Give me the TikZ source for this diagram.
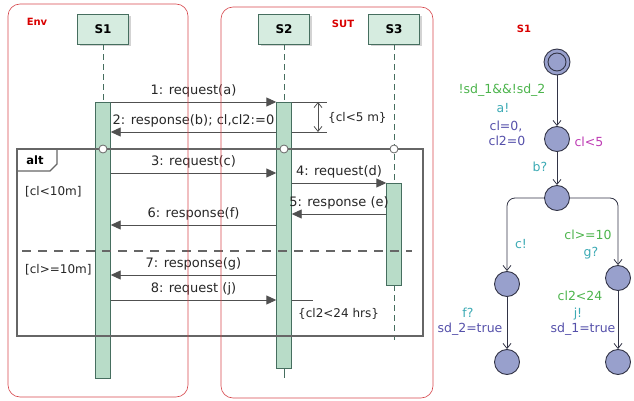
\documentclass[tikz,border=0pt]{standalone}
\usepackage{fontspec}
\setmainfont{DejaVu Sans}
\usetikzlibrary{arrows.meta,shadows}

\definecolor{frameRed}{RGB}{214,70,76}
\definecolor{headFill}{RGB}{214,236,224}
\definecolor{barFill}{RGB}{184,220,200}
\definecolor{lifeGreen}{RGB}{70,110,95}
\definecolor{msgGray}{RGB}{80,80,80}
\definecolor{stateFill}{RGB}{152,160,204}
\definecolor{stateLine}{RGB}{50,52,70}
\definecolor{guardGreen}{RGB}{76,180,76}
\definecolor{syncTeal}{RGB}{60,170,180}
\definecolor{updBlue}{RGB}{85,80,170}
\definecolor{invPink}{RGB}{190,60,180}

\newcommand\seqfont{\fontsize{13}{15}\selectfont}
\newcommand\tafont{\fontsize{12.5}{14}\selectfont}

\begin{document}
\begin{tikzpicture}[x=1pt,y=-1pt]
      \useasboundingbox (0,0) rectangle (634,401);
      \tikzset{
        frame/.style = {draw=frameRed,line width=0.6pt,rounded corners=12pt},
        frametag/.style = {text=red!85!black,font=\fontsize{10}{12}\selectfont\bfseries},
        head/.style = {draw=lifeGreen,fill=headFill,line width=0.9pt,minimum width=51pt,
          minimum height=30pt,font=\fontsize{12}{14}\selectfont\bfseries,
          drop shadow={opacity=0.35,shadow xshift=2pt,shadow yshift=-2pt}},
        bar/.style = {draw=lifeGreen,fill=barFill,minimum width=15pt,inner sep=0pt},
        life/.style = {draw=lifeGreen,dash pattern=on 6pt off 4pt,line width=0.8pt},
        msg/.style = {draw=msgGray,line width=0.9pt,-{Triangle[length=10pt,width=9pt]}},
        lbl/.style = {font=\seqfont,inner sep=1pt,text=black!85,above=3pt},
        altline/.style = {draw=black!60,line width=1.3pt},
        cross/.style = {circle,draw=black!60,fill=white,line width=0.8pt,minimum size=8pt,inner sep=0pt},
        guard/.style = {font=\fontsize{12}{14}\selectfont,text=black!85,anchor=west,inner sep=0pt},
        state/.style = {circle,draw=stateLine,fill=stateFill,line width=0.9pt,minimum size=25pt,inner sep=0pt},
        edge/.style = {draw=stateLine,line width=0.8pt,-{Straight Barb[length=5pt,width=8pt]}},
        ta/.style = {font=\tafont,inner sep=0pt}
      }

      % Frames
      \node[frametag] (env) at (37,22) {Env};
      \node[frametag] (sut) at (343,24) {SUT};

      % Lifelines
      \node[head] (s1) at (103,29) {S1};
      \node[head] (s2) at (284,29) {S2};
      \node[head] (s3) at (394,29) {S3};
      \node[bar,minimum height=276pt] (a1) at (103,240) {};
      \node[bar,minimum height=266pt] (a2) at (284,235) {};
      \node[bar,minimum height=102pt] (a3) at (394,234) {};
      \draw[life] (s1) -- (a1);
      \draw[life] (s2) -- (a2);
      \draw[life] (s3) -- (a3);
      \draw[life] (a3.south) -- ++(0,55);
      \draw[lifeGreen,line width=0.8pt] (a2.south) -- ++(0,10);

      % Messages
      \draw[msg] (a1.east |- 0,102) -- node[lbl] {1: request(a)} (a2.west |- 0,102);
      \draw[msg] (a2.west |- 0,132) -- node[lbl] {2: response(b); cl,cl2:=0} (a1.east |- 0,132);
      \draw[msg] (a1.east |- 0,173) -- node[lbl] {3: request(c)} (a2.west |- 0,173);
      \draw[msg] (a2.east |- 0,183) -- node[lbl] {4: request(d)} (a3.west |- 0,183);
      \draw[msg] (a3.west |- 0,214) -- node[lbl] {5: response (e)} (a2.east |- 0,214);
      \draw[msg] (a2.west |- 0,225) -- node[lbl] {6: response(f)} (a1.east |- 0,225);
      \draw[msg] (a2.west |- 0,275) -- node[lbl] {7: response(g)} (a1.east |- 0,275);
      \draw[msg] (a1.east |- 0,300) -- node[lbl] {8: request (j)} (a2.west |- 0,300);

      % Time constraints
      \coordinate (t1) at (327,102);
      \coordinate (t2) at (327,132);
      \coordinate (t3) at (313,300);
      \draw[msgGray,line width=0.9pt] (a2.east |- t1) -- (t1);
      \draw[msgGray,line width=0.9pt] (a2.east |- t2) -- (t2);
      \draw[msgGray,line width=0.9pt] (a2.east |- t3) -- (t3);
      \draw[msgGray,line width=0.8pt,{Straight Barb[length=5pt,width=8pt]}-{Straight Barb[length=5pt,width=8pt]}]
        ([xshift=-9pt]t1) -- ([xshift=-9pt]t2);
      \node[guard] (c1) at (328,118) {\{cl<5 m\}};
      \node[guard] (c2) at (298,314) {\{cl2<24 hrs\}};

      % Combined fragment
      \draw[altline] (17,149) rectangle (423,336);
      \draw[altline] (17,171) -- (50,171) -- (57,164) -- (57,149);
      \node[font=\fontsize{11.5}{13}\selectfont\bfseries] (alt) at (35,160) {alt};
      \draw[altline,line width=1.1pt,dash pattern=on 9pt off 7pt] (22,251) -- (412,251);
      \node[cross] (x1) at (a1 |- 0,149) {};
      \node[cross] (x2) at (a2 |- 0,149) {};
      \node[cross] (x3) at (s3 |- 0,149) {};
      \node[guard] (g1) at (25,192) {[cl<10m]};
      \node[guard] (g2) at (25,270) {[cl>=10m]};

      \draw[frame] (8,4) rectangle (188,397);
      \draw[frame] (221,7) rectangle (433,398);

      % Automaton
      \node[frametag] (ta) at (524,29) {S1};
      \node[state,minimum size=26pt] (l0) at (557,62) {};
      \draw[stateLine,line width=0.9pt] (l0.center) circle (9pt);
      \node[state] (l1) at (557,139) {};
      \node[state] (l2) at (557,198) {};
      \node[state] (l3) at (507,284) {};
      \node[state] (l4) at (618,278) {};
      \node[state] (l5) at (507,362) {};
      \node[state] (l6) at (618,362) {};

      \draw[edge] (l0) -- (l1);
      \draw[edge] (l1) -- (l2);
      \draw[edge,rounded corners=8pt] (l2.west) -| (l3);
      \draw[edge,rounded corners=8pt] (l2.east) -| (l4);
      \draw[edge] (l3) -- (l5);
      \draw[edge] (l4) -- (l6);

      \node[ta,text=guardGreen] at (502,90) {!sd\_1\&\&!sd\_2};
      \node[ta,text=syncTeal] at (503,108) {a!};
      \node[ta,text=updBlue] at (506,126) {cl=0,};
      \node[ta,text=updBlue] at (507,141) {cl2=0};
      \node[ta,text=invPink] at (589,142) {cl<5};
      \node[ta,text=syncTeal] at (540,167) {b?};
      \node[ta,text=syncTeal] at (521,244) {c!};
      \node[ta,text=guardGreen] at (588,235) {cl>=10};
      \node[ta,text=syncTeal] at (591,253) {g?};
      \node[ta,text=syncTeal] at (468,313) {f?};
      \node[ta,text=updBlue] at (470,329) {sd\_2=true};
      \node[ta,text=guardGreen] at (580,296) {cl2<24};
      \node[ta,text=syncTeal] at (578,314) {j!};
      \node[ta,text=updBlue] at (583,329) {sd\_1=true};
\end{tikzpicture}
\end{document}
